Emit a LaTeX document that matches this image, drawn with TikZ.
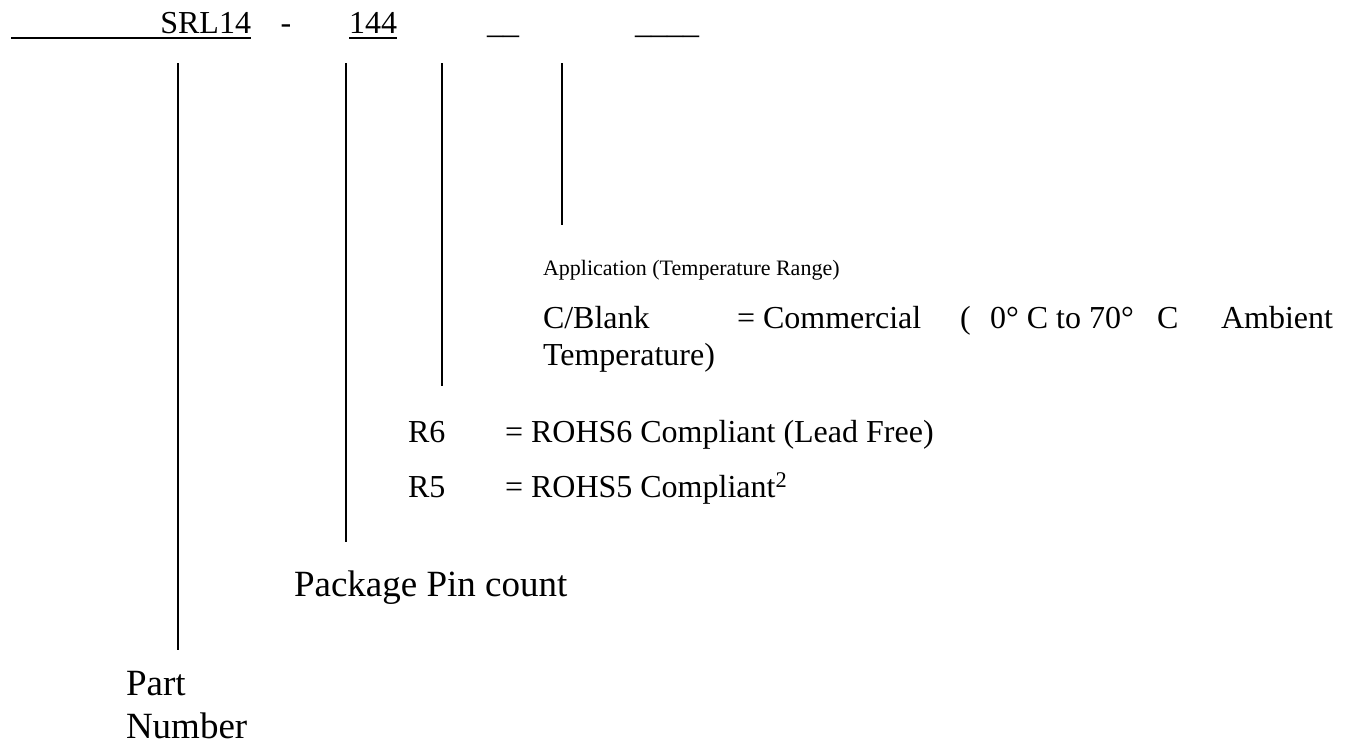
\documentclass[tikz,border=0pt]{standalone}
\usepackage{fontspec}
\setmainfont{Liberation Serif}
\usepackage{tikz}
\usetikzlibrary{positioning}
\tikzset{
  base/.style={inner sep=0pt,outer sep=0pt,anchor=base west,text=black},
  partcode/.style={base,font=\fontsize{32}{38}\selectfont},
  choice/.style={base,font=\fontsize{32}{37}\selectfont},
  heading/.style={base,font=\fontsize{22}{26}\selectfont},
  fieldlabel/.style={base,font=\fontsize{37}{43}\selectfont,align=left},
  uline/.style={line width=1.6pt},
  lead/.style={line width=1.6pt}
}

\begin{document}
\begin{tikzpicture}[x=1pt,y=-1pt]
\useasboundingbox (0,0) rectangle (1346,744);
% ordering code
\node[partcode,anchor=base east] (srl) at (251,33) {SRL14};
\node[partcode,anchor=base] (dash) at (286,33) {-};
\node[partcode] (pins) at (349,33) {144};
\node[partcode] (rohs) at (487,33) {\_\_};
\node[partcode] (temp) at (635,33) {\_\_\_\_};
\coordinate (ustart) at (11,38);
\draw[uline] (ustart) -- (ustart -| srl.east);
\draw[uline] (pins.west |- ustart) -- (pins.east |- ustart);

% leader lines
\foreach \name/\xx/\yy in {pn/178/650, pc/346/542, rh/442/386, ap/562/225}{
  \coordinate (\name top) at (\xx,63);
  \coordinate (\name bot) at (\xx,\yy);
  \draw[lead] (\name top) -- (\name bot);
}

% application
\node[heading] (app) at (543,275) {Application (Temperature Range)};
\node[choice] (cb) at (543,328) {C/Blank};
\node[choice] (com) at (737,328) {= Commercial};
\node[choice] (paren) at (960,328) {(};
\node[choice] (range) at (990,328) {0° C to 70°};
\node[choice] (degc) at (1157,328) {C};
\node[choice,anchor=base east] (amb) at (1333,328) {Ambient};
\node[choice] (tmp) at (543,365) {Temperature)};

% rohs
\node[choice] (r6) at (408,442) {R6};
\node[choice] (r6txt) at (505,442) {= ROHS6 Compliant (Lead Free)};
\node[choice] (r5) at (408,497) {R5};
\node[choice] (r5txt) at (505,497) {= ROHS5 Compliant\textsuperscript{2}};

% labels
\node[fieldlabel] (pkg) at (294,596) {Package Pin count};
\node[fieldlabel] (part) at (126,738) {Part\\Number};
\end{tikzpicture}
\end{document}
